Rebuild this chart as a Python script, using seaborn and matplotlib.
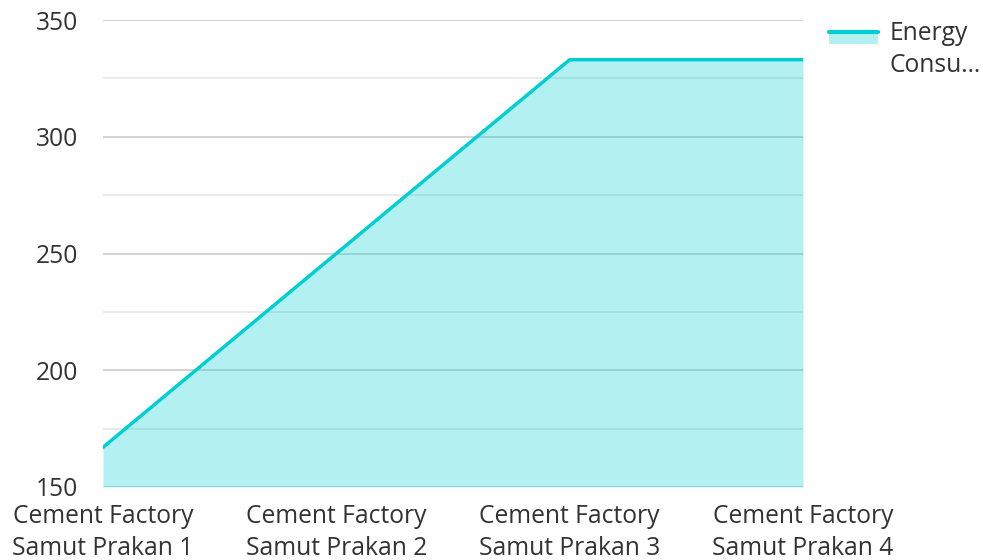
import matplotlib
matplotlib.use("Agg")
import matplotlib.pyplot as plt
import seaborn as sns
import pandas as pd
from matplotlib.legend_handler import HandlerBase
from matplotlib.patches import Rectangle
from matplotlib.lines import Line2D
from matplotlib.ticker import MultipleLocator

categories = ["Cement Factory\nSamut Prakan 1", "Cement Factory\nSamut Prakan 2",
              "Cement Factory\nSamut Prakan 3", "Cement Factory\nSamut Prakan 4"]
values = [167, 250, 333, 333]
series_name = "Energy\nConsu…"
y_ticks = [150, 200, 250, 300, 350]

LINE = "#00CED1"
TEXT = "#333333"
FS = 17.7

sns.set_theme(style="white")
plt.rcParams['font.family'] = ['Open Sans', 'DejaVu Sans']

df = pd.DataFrame({"x": range(len(categories)), "y": values})

fig = plt.figure(figsize=(9.83, 5.6), dpi=100)
ax = fig.add_axes([103/983, 1-487/560, 700/983, 467/560])

ax.yaxis.set_major_locator(MultipleLocator(50))
ax.yaxis.set_minor_locator(MultipleLocator(25))
ax.grid(axis="y", which="major", color="#CCCCCC", linewidth=1.2, zorder=0)
ax.grid(axis="y", which="minor", color="#E6E6E6", linewidth=1.2, zorder=0)
ax.set_axisbelow(True)

ax.fill_between(df["x"], df["y"], 150, color=LINE, alpha=0.3, linewidth=0, zorder=1)
sns.lineplot(data=df, x="x", y="y", color=LINE, linewidth=2.5, ax=ax, zorder=3)

ax.set_xlim(0, len(categories) - 1)
ax.set_ylim(150, 350)
ax.set_xticks(range(len(categories)))
ax.set_xticklabels(categories, fontsize=FS, color=TEXT, linespacing=1.36)
ax.set_yticks(y_ticks)
ax.set_yticklabels([str(t) for t in y_ticks], fontsize=FS, color=TEXT)
ax.tick_params(axis="both", which="both", length=0)
ax.tick_params(axis="x", pad=12)
ax.tick_params(axis="y", pad=18)
ax.set_xlabel("")
ax.set_ylabel("")
for s in ax.spines.values():
    s.set_visible(False)


class AreaHandler(HandlerBase):
    def create_artists(self, legend, orig_handle, xdescent, ydescent, width, height, fontsize, trans):
        top = -ydescent + height * 0.5 + height * 1.07
        h = height * 0.68
        rect = Rectangle((-xdescent, top - h), width, h,
                         facecolor=LINE, alpha=0.3, edgecolor="none", transform=trans)
        line = Line2D([-xdescent, -xdescent + width], [top, top], color=LINE,
                      linewidth=3, transform=trans)
        return [rect, line]


proxy = Rectangle((0, 0), 1, 1)
leg = ax.legend([proxy], [series_name], handler_map={Rectangle: AreaHandler()},
                loc="upper left", bbox_to_anchor=(829/983, 1-21/560),
                bbox_transform=fig.transFigure, frameon=False, fontsize=FS,
                handlelength=2.0, handletextpad=0.45, borderaxespad=0, borderpad=0)
for t in leg.get_texts():
    t.set_color(TEXT)
    t.set_linespacing(1.38)

fig.savefig("out.png", dpi=100)
